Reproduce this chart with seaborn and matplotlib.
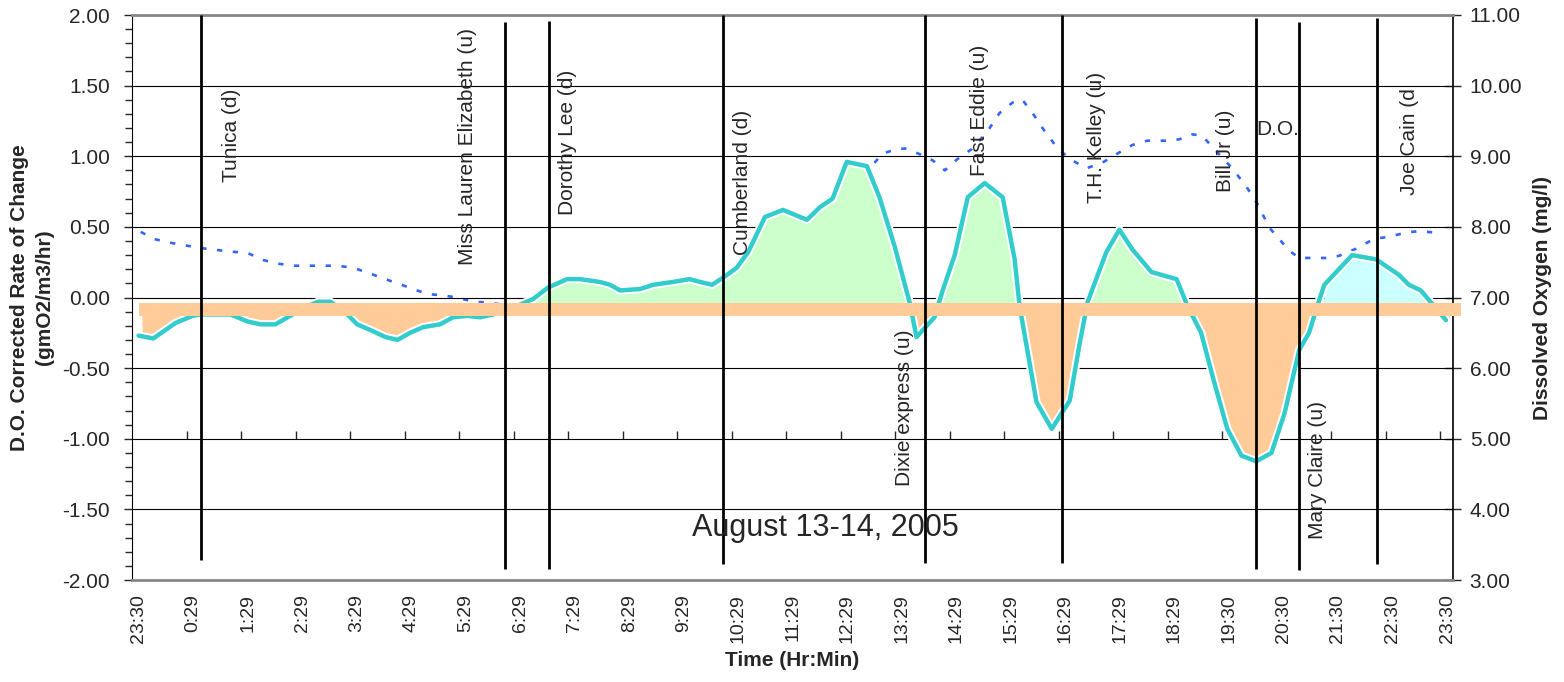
import numpy as np
import pandas as pd
import matplotlib
matplotlib.use("Agg")
import matplotlib.pyplot as plt
import matplotlib.patheffects as pe
from matplotlib.transforms import ScaledTranslation
import seaborn as sns

# Time axis: hours after 23:30 on Aug 13
tick_labels = ['23:30', '0:29', '1:29', '2:29', '3:29', '4:29', '5:29', '6:29',
               '7:29', '8:29', '9:29', '10:29', '11:29', '12:29', '13:29', '14:29',
               '15:29', '16:29', '17:29', '18:29', '19:30', '20:30', '21:30',
               '22:30', '23:30']

# D.O. corrected rate of change (gmO2/m3/hr)
rate_hours = [0.00, 0.27, 0.68, 0.99, 1.14, 1.69, 2.00, 2.24, 2.51, 2.78, 3.10, 3.30,
              3.52, 3.83, 4.01, 4.25, 4.53, 4.75, 4.98, 5.22, 5.53, 5.77, 6.03, 6.27,
              6.50, 6.69, 7.00, 7.24, 7.51, 7.86, 8.10, 8.46, 8.65, 8.83, 9.20, 9.44,
              9.80, 10.11, 10.30, 10.52, 10.72, 10.97, 11.18, 11.49, 11.82, 12.26,
              12.50, 12.73, 12.99, 13.36, 13.59, 13.87, 14.14, 14.27, 14.60, 14.75,
              14.97, 15.21, 15.52, 15.85, 16.07, 16.16, 16.31, 16.47, 16.75, 17.08,
              17.26, 17.41, 17.75, 17.99, 18.23, 18.58, 19.04, 19.24, 19.49, 19.73,
              19.97, 20.23, 20.50, 20.78, 21.02, 21.29, 21.47, 21.62, 21.75, 22.26,
              22.70, 23.12, 23.30, 23.52, 23.98]
rate_vals = [-0.27, -0.29, -0.18, -0.13, -0.12, -0.12, -0.17, -0.19, -0.19, -0.13, -0.06,
             -0.03, -0.03, -0.12, -0.19, -0.23, -0.28, -0.30, -0.25, -0.21, -0.19, -0.14,
             -0.13, -0.14, -0.12, -0.10, -0.05, -0.01, 0.07, 0.13, 0.13, 0.11, 0.09, 0.05,
             0.06, 0.09, 0.11, 0.13, 0.11, 0.09, 0.14, 0.21, 0.32, 0.57, 0.62, 0.55, 0.64,
             0.70, 0.96, 0.93, 0.71, 0.36, -0.03, -0.28, -0.14, 0.05, 0.30, 0.71, 0.81,
             0.71, 0.27, -0.06, -0.39, -0.74, -0.93, -0.73, -0.33, -0.03, 0.32, 0.48,
             0.34, 0.18, 0.13, -0.06, -0.25, -0.60, -0.93, -1.12, -1.16, -1.10, -0.82,
             -0.37, -0.25, -0.06, 0.09, 0.30, 0.27, 0.16, 0.09, 0.05, -0.16]

# Dissolved oxygen (mg/l)
do_hours = [0.04, 0.27, 0.62, 1.14, 1.69, 2.00, 2.29, 2.55, 2.84, 3.65, 3.94, 4.21,
            4.49, 4.75, 5.04, 5.29, 5.57, 5.84, 6.14, 6.39, 6.67, 7.00, 7.50, 8.00,
            8.50, 9.00, 9.50, 10.00, 10.50, 11.00, 11.50, 12.00, 12.50, 13.00, 13.41,
            13.65, 13.91, 14.06, 14.36, 14.57, 14.79, 15.02, 15.28, 15.56, 15.79,
            16.03, 16.21, 16.40, 16.58, 16.84, 17.08, 17.39, 17.68, 17.96, 18.23,
            18.50, 18.85, 19.09, 19.33, 19.51, 19.77, 20.06, 20.32, 20.52, 20.74,
            20.92, 21.11, 21.29, 21.78, 22.02, 22.33, 22.66, 22.94, 23.25, 23.49, 23.76]
do_vals = [7.93, 7.83, 7.77, 7.70, 7.65, 7.63, 7.53, 7.48, 7.45, 7.45, 7.42, 7.35,
           7.27, 7.20, 7.12, 7.05, 7.03, 7.00, 6.94, 6.93, 6.90, 6.86, 6.86, 6.87,
           6.90, 6.93, 6.97, 7.02, 7.10, 7.30, 7.60, 7.90, 8.10, 8.55, 8.83,
           9.04, 9.10, 9.11, 9.02, 8.94, 8.80, 8.96, 9.10, 9.34, 9.61,
           9.76, 9.80, 9.61, 9.40, 9.13, 8.96, 8.83, 8.91, 9.04, 9.16,
           9.22, 9.22, 9.24, 9.31, 9.29, 9.07, 8.83, 8.57, 8.33, 7.99,
           7.83, 7.66, 7.56, 7.56, 7.59, 7.69, 7.83, 7.86, 7.92, 7.94, 7.92]

# Boat passage markers
boat_hours = [1.14, 6.72, 7.53, 10.72, 14.42, 16.93, 20.50, 21.29, 22.72]
boat_top = [2.00, 1.95, 1.96, 2.00, 2.00, 2.00, 1.98, 1.95, 1.98]
boat_bottom = [-1.86, -1.92, -1.92, -1.89, -1.88, -1.88, -1.92, -1.93, -1.89]

label_names = ['Tunica (d)', 'Miss Lauren Elizabeth (u)', 'Dorothy Lee (d)',
               'Cumberland (d)', 'Dixie express (u)', 'Fast Eddie (u)',
               'T.H. Kelley (u)', 'Bill Jr (u)', 'Mary Claire (u)', 'Joe Cain (d']
label_hours = [1.70, 6.03, 7.86, 11.08, 14.05, 15.43, 17.57, 19.93, 21.62, 23.31]
label_tops = [1.48, 1.91, 1.61, 1.33, -0.23, 1.79, 1.60, 1.33, -0.73, 1.48]

sns.set_style("white")
plt.rcParams['font.family'] = ['Liberation Sans', 'DejaVu Sans']

rate_df = pd.DataFrame({'hours': rate_hours, 'rate': rate_vals})
do_df = pd.DataFrame({'hours': do_hours, 'do': do_vals})

fig = plt.figure(figsize=(15.64, 6.82), dpi=100)
ax = fig.add_axes([132 / 1564, 1 - 580 / 682, 1321 / 1564, 565 / 682])
ax2 = ax.twinx()

# DO line on the secondary axis, drawn underneath the fills
sns.lineplot(data=do_df, x='hours', y='do', ax=ax2, color='#3366FF', lw=1.9,
             sort=False)
ax2.lines[0].set_dashes((2, 4))
ax.set_zorder(ax2.get_zorder() + 1)
ax.patch.set_visible(False)

# fills (slightly shifted like the original chart), down to the orange band
hrs = np.array(rate_hours)
vals = np.array(rate_vals)
base = -0.085
shift = ax.transData + ScaledTranslation(4 / 100, 0, fig.dpi_scale_trans)
ax.fill_between(hrs, vals, base, where=(vals >= base) & (hrs < 21.5), interpolate=True,
                color='#CCFFCC', lw=0, transform=shift, zorder=2)
ax.fill_between(hrs, vals, base, where=(vals >= base) & (hrs > 21.5), interpolate=True,
                color='#CCFFFF', lw=0, transform=shift, zorder=2)
ax.fill_between(hrs, vals, base, where=(vals <= base), interpolate=True,
                color='#FFCC99', lw=0, transform=shift, zorder=2)

# rate of change line
sns.lineplot(data=rate_df, x='hours', y='rate', ax=ax, color='#33CCCC', lw=3.2,
             sort=False, zorder=3)
ax.lines[-1].set_path_effects([pe.Stroke(linewidth=6, foreground='white'), pe.Normal()])

# thick orange baseline band
ax.fill_between([rate_hours[0], rate_hours[-1] + 0.28], -0.13, -0.04,
                color='#FFCC99', lw=0, zorder=4, clip_on=False)

# boat passages
ax.vlines(boat_hours, boat_bottom, boat_top, color='black', lw=2, zorder=5)
for name, h, top in zip(label_names, label_hours, label_tops):
    ax.text(h, top, name, rotation=90, ha='center', va='top', fontsize=15, zorder=6)
ax.text(20.5, 1.19, 'D.O.', ha='left', va='center', fontsize=15, zorder=6)
ax.text(12.6, -1.63, 'August 13-14, 2005', ha='center', va='center', fontsize=22, zorder=6)

# left axis
ax.set_xlim(-0.12, 24.11)
ax.set_ylim(-2, 2)
ax.set_yticks(np.arange(-2, 2.01, 0.5))
ax.set_yticks(np.arange(-2, 2.01, 0.1), minor=True)
ax.set_yticklabels([f'{v:.2f}' for v in np.arange(-2, 2.01, 0.5)], fontsize=15)
ax.tick_params(axis='y', which='major', direction='out', length=6, width=1, pad=10, left=True)
ax.tick_params(axis='y', which='minor', direction='out', length=5, width=1, left=True)
ax.grid(axis='y', which='major', color='black', lw=0.8)
ax.set_axisbelow(True)
ax.set_xticks(np.arange(0, 25))
ax.set_xticklabels(tick_labels, rotation=90, fontsize=14)
ax.tick_params(axis='x', length=0, pad=10)
ax.set_xlabel('Time (Hr:Min)', fontsize=15, fontweight='bold', labelpad=6)
ax.set_ylabel('D.O. Corrected Rate of Change\n(gmO2/m3/hr)', fontsize=15,
              fontweight='bold', labelpad=6, linespacing=1.35)

# small ticks on the -1.00 line
sec = ax.secondary_xaxis(0.25)
sec.set_xticks(np.arange(1, 25) - 0.12)
sec.set_xticklabels([])
sec.tick_params(direction='in', length=6, width=1)
sec.spines['bottom'].set_visible(False)

for side in ['top', 'bottom']:
    ax.spines[side].set_color('#888888')
    ax.spines[side].set_linewidth(2)
    ax2.spines[side].set_visible(False)
ax.spines['left'].set_color('black')
ax.spines['right'].set_visible(False)
ax2.spines['right'].set_color('black')
ax2.spines['right'].set_linewidth(1.2)
ax2.spines['left'].set_visible(False)

# right axis
ax2.set_ylim(3, 11)
ax2.set_yticks(np.arange(3, 11.01, 1))
ax2.set_yticklabels([f'{v:.2f}' for v in np.arange(3, 11.01, 1)], fontsize=15)
ax2.tick_params(axis='y', direction='inout', length=12, width=1, pad=6, right=True)
ax2.set_ylabel('Dissolved Oxygen (mg/l)', fontsize=15, fontweight='bold', labelpad=8)
ax2.set_xlabel('')
ax2.grid(False)

fig.savefig('out.png', dpi=100)
